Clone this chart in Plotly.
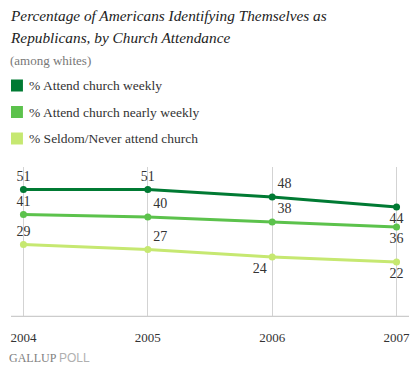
import plotly.graph_objects as go

years = [2004, 2005, 2006, 2007]
weekly = [51, 51, 48, 44]
nearly = [41, 40, 38, 36]
seldom = [29, 27, 24, 22]
series_names = ["% Attend church weekly", "% Attend church nearly weekly", "% Seldom/Never attend church"]
colors = ["#007a33", "#5cc24c", "#c6e871"]
positions = [
    ["top center", "top center", "top right", "bottom center"],
    ["top center", "top right", "top right", "bottom center"],
    ["top center", "top right", "bottom left", "bottom center"],
]

W, H = 420, 377
L, R, T, B = 10, 10, 167, 60
PH = H - T - B
SERIF = "Liberation Serif"

def py(y):
    return (H - B - y) / PH

def px(x):
    return (x - L) / (W - L - R)

fig = go.Figure()
for vals, name, c, pos in zip([weekly, nearly, seldom], series_names, colors, positions):
    fig.add_trace(go.Scatter(
        x=years, y=vals, mode="lines+markers+text", name=name,
        line=dict(color=c, width=3), marker=dict(color=c, size=7),
        text=[str(v) for v in vals], textposition=pos,
        textfont=dict(family=SERIF, size=14, color="#333333"),
        showlegend=False, cliponaxis=False, hoverinfo="skip",
    ))

ann = []
ann.append(dict(x=px(7), y=py(15), xref="paper", yref="paper", xanchor="left", yanchor="middle",
                text="<i>Percentage of Americans Identifying Themselves as</i>", showarrow=False,
                font=dict(family=SERIF, size=15.3, color="#222222")))
ann.append(dict(x=px(7), y=py(37), xref="paper", yref="paper", xanchor="left", yanchor="middle",
                text="<i>Republicans, by Church Attendance</i>", showarrow=False,
                font=dict(family=SERIF, size=15.3, color="#222222")))
ann.append(dict(x=px(7), y=py(60), xref="paper", yref="paper", xanchor="left", yanchor="middle",
                text="(among whites)", showarrow=False,
                font=dict(family=SERIF, size=13, color="#777777")))
shapes = []
for i, (name, c) in enumerate(zip(series_names, colors)):
    yc = 85.5 + i * 26.5
    shapes.append(dict(type="rect", xref="paper", yref="paper",
                       x0=px(10), x1=px(22), y0=py(yc - 6), y1=py(yc + 6),
                       fillcolor=c, line=dict(width=0)))
    ann.append(dict(x=px(26), y=py(yc), xref="paper", yref="paper", xanchor="left", yanchor="middle",
                    text=name, showarrow=False, font=dict(family=SERIF, size=13.5, color="#333333")))

shapes.append(dict(type="line", xref="paper", yref="y", x0=0, x1=1, y0=0, y1=0,
                   line=dict(color="#cccccc", width=2.5)))
ann.append(dict(x=px(6), y=py(358), xref="paper", yref="paper", xanchor="left", yanchor="middle",
                text="GALLUP <span style='font-family:Liberation Sans;color:#b0b0b0'>POLL</span>", showarrow=False,
                font=dict(family=SERIF, size=12, color="#808080")))

fig.update_layout(
    width=W, height=H, margin=dict(l=L, r=R, t=T, b=B),
    paper_bgcolor="white", plot_bgcolor="white",
    annotations=ann, shapes=shapes, hovermode=False,
    xaxis=dict(range=[2003.9, 2007.1], tickvals=years, ticktext=[str(y) for y in years],
               showgrid=True, gridcolor="#d3d3d3", gridwidth=1, zeroline=False, showline=False,
               ticks="", ticklabelstandoff=11,
               tickfont=dict(family=SERIF, size=13, color="#333333")),
    yaxis=dict(range=[0, 60], showgrid=False, zeroline=False, showticklabels=False, showline=False),
)
fig.write_html("out.html", config={"displayModeBar": False},
               post_script="document.body.style.margin='0';")
